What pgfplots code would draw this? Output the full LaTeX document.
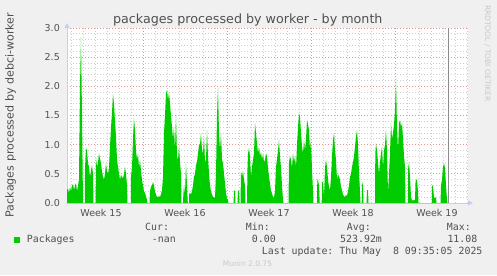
\documentclass[border=0pt]{standalone}
\usepackage{fontspec}
\setmainfont{DejaVu Sans}
\setmonofont{DejaVu Sans Mono}
\usepackage{pgfplots}
\pgfplotsset{compat=1.18}
\usetikzlibrary{arrows.meta}
\definecolor{mbg}{RGB}{240,240,240}
\definecolor{mgreen}{RGB}{0,204,0}
\definecolor{maxis}{RGB}{200,205,245}
\definecolor{mgrid}{RGB}{205,205,205}
\definecolor{mmgrid}{RGB}{225,150,150}
\definecolor{mtext}{RGB}{80,80,80}
\definecolor{mwater}{RGB}{200,200,200}
\definecolor{mnow}{RGB}{140,140,140}
\newcommand\tickfont{\fontsize{9.5bp}{11bp}\selectfont}
\newcommand\titlefont{\fontsize{12.7bp}{15bp}\selectfont}
\newcommand\labelfont{\fontsize{11.1bp}{13bp}\selectfont}
\newcommand\legfont{\ttfamily\fontsize{9.9bp}{12bp}\selectfont}
\newcommand\waterfont{\fontsize{7.5bp}{9bp}\selectfont}

\pgfplotstableread{
h v
0 0.22
2 0.25
4 0.17
6 0.28
8 0.2
10 0.3
12 0.32
14 0.22
16 0.3
18 0.34
20 0.2
22 0.3
24 0.4
26 2.0
28 2.85
30 1.5
32 0
35.8 0
36 0.6
38 0.94
40 0.9
42 0.68
44 0.62
46 0.45
48 0.55
50 0.65
52 0.5
53 0
57.2 0
58 0.77
60 0.62
62 0.7
64 0.85
66 0.76
68 0.68
70 0.55
72 0.45
74 0.4
76 0.5
78 0.68
80 0.55
82 0.5
84 0.6
86 0.97
88 1.3
90 1.55
92 1.87
94 1.7
96 1.4
98 1.14
100 0.74
102 0.62
104 0.5
106 0.4
108 0.48
110 0.45
112 0.42
114 0.5
116 0.62
118 0.5
120 0.3
121 0
127.6 0
128 0.45
130 0.6
132 1.1
134 1.45
136 1.25
138 0.9
140 0.74
142 0.85
144 0.6
146 0.74
148 0.55
150 0.4
152 0.3
154 0.2
156 0.17
158 0.12
160 0.05
161 0
165 0
166 0.2
168 0.28
170 0.3
172 0.36
174 0.3
176 0.2
178 0.14
180 0.11
182 0.1
184 0.12
186 0.1
188 0.15
190 0.22
192 0.45
194 1.2
196 1.5
198 1.88
200 1.94
202 1.76
204 1.9
206 1.7
208 1.5
210 1.3
212 1.1
214 1.3
216 0.9
218 1.51
220 0.8
222 0.74
224 0.97
226 0.7
228 0.5
229 0
232 0
232.6 0.13
234 0.3
236 0.15
238 0.68
240 0.3
241.6 0
244 0
244.4 0.15
246 0.18
248 0.14
250 0.2
252 0.3
254 0.45
256 0.5
258 0.65
260 0.7
262 0.85
264 1.0
266 1.0
268 1.2
270 0.9
272 0.85
274 1.14
276 0.7
278 0.75
280 1.25
282 0.8
284 0.5
286 0.3
288 0.2
290 0.15
292 0.1
294 0.1
296 0.08
298 0.5
300 1.5
302 1.97
304 1.2
306 0.9
308 1.2
310 0.74
312 0.68
314 0.5
316 0.34
318 0.17
320 0.08
322 0.05
323 0
333.2 0
334 0.22
336 0.2
337 0
341 0
342 0.22
344 0.2
345 0
347 0
348 0.54
350 0.45
352 0.55
354 0.4
356 0.3
357 0
360 0
361 0.6
362 0.85
364 0.94
366 0.8
368 0.45
370 0.62
372 0.74
374 0.85
376 1.37
378 1.2
380 1.02
382 0.85
384 0.97
386 0.8
388 0.88
390 0.74
392 0.85
394 0.7
396 0.74
398 0.85
400 0.8
402 0.6
404 0.45
406 0.34
408 0.2
410 0.17
412 0.1
414 0.1
416 0.2
418 0.62
420 0.75
422 0.9
424 1.08
426 0.8
428 0.6
430 0.3
432 0.05
433 0
443 0
444 0.7
446 0.8
448 0.74
450 0.6
452 0.85
454 0.7
456 0.8
458 0.6
460 1.0
462 1.3
464 1.54
466 1.48
468 1.2
470 0.97
472 0.85
474 1.08
476 0.9
478 1.1
480 1.42
482 1.35
484 1.25
486 0.9
488 1.08
490 0.57
492 0.2
493 0
500 0
500.6 0.4
502 0.4
504 0.3
505.4 0
509.4 0
510 0.37
512 0.35
514 0.1
516 0.6
518 0.74
520 0.62
522 0.4
524 0.28
526 0.22
528 0.45
530 0.8
532 1.08
534 1.2
536 0.9
538 0.74
540 0.4
542 0.5
544 0.45
546 0.4
548 0.28
550 0.22
552 0.14
554 0.12
556 0.1
558 0.14
560 0.12
562 0.2
564 0.3
566 0.45
568 0.5
570 0.62
572 0.7
574 0.8
576 0.97
578 1.14
580 1.25
582 1.0
584 0.5
586 0.2
587 0
589.4 0
590 0.36
592 0.3
593 0
599 0
600 0.22
602 0.22
603 0
616 0
616.6 0.85
618 1.02
620 0.9
622 0.7
624 0.5
626 0.7
628 0.85
630 0.97
632 0.6
634 0.9
636 1.0
638 1.25
640 0.9
642 0.17
644 0.5
646 0.85
648 1.37
650 1.1
652 1.2
654 1.35
656 1.6
658 2.1
660 1.3
662 0.9
664 1.37
666 1.42
668 1.3
670 1.37
672 1.1
674 0.8
676 0.62
677 0
682 0
682.4 0.6
684 0.7
686 0.45
688 0.1
690 0.05
692 0.04
694 0.05
696 0.05
697 0.35
698 0.4
700 0.4
702 0.2
703 0
729.6 0
730 0.31
732 0.28
734 0.1
736 0.08
738 0.1
739 0
747 0
748 0.3
750 0.4
752 0.62
754 0.68
756 0.6
758 0.3
760 0.05
761 0
}\datatable

\begin{document}
\begin{tikzpicture}[x=1bp,y=1bp]
\fill[mbg] (0,0) rectangle (497,275);
\begin{axis}[
  at={(67bp,72bp)}, anchor=south west,
  scale only axis, width=401bp, height=175bp,
  xmin=0, xmax=802, ymin=0, ymax=3,
  axis background/.style={fill=white},
  axis x line*=bottom, axis y line*=left,
  axis line style={draw=maxis, line width=1bp},
  x axis line style={-{Triangle[length=5bp,width=5bp]}, shorten >=-5bp},
  y axis line style={-{Triangle[length=5bp,width=5bp]}, shorten >=-5bp},
  xtick={68,236,404,572,740},
  xticklabels={Week 15,Week 16,Week 17,Week 18,Week 19},
  tick style={draw=none},
  extra x ticks={152,320,488,656},
  extra x tick labels={},
  extra x tick style={grid=major},
  minor xtick={8,32,...,800},
  xminorgrids=true,
  ytick={0,0.5,...,3},
  minor y tick num=4,
  ymajorgrids=true, yminorgrids=true,
  major grid style={draw=mmgrid, dash pattern=on 1bp off 2bp, line width=0.8bp},
  minor grid style={draw=mgrid, dash pattern=on 1bp off 2bp, line width=0.8bp},
  /pgf/number format/assume math mode=true,
  yticklabel style={/pgf/number format/.cd, fixed, fixed zerofill, precision=1, /tikz/.cd, font=\tickfont, text=mtext, inner sep=0pt, xshift=-7bp},
  xticklabel style={anchor=base, yshift=-13bp, inner sep=0pt, font=\tickfont, text=mtext},
]
\addplot[draw=none, fill=mgreen] table[x=h, y=v] {\datatable} \closedcycle;
\addplot[draw=mnow, line width=1bp] coordinates {(762,0) (762,3)};
\end{axis}
\node[anchor=base, font=\titlefont, text=mtext] at (247.8,251.7) {packages processed by worker - by month};
\node[rotate=90, anchor=base, font=\labelfont, text=mtext] at (13.5,160) {Packages processed by debci-worker};
\node[rotate=-90, anchor=base, font=\waterfont, text=mwater] at (485,221.5) {RRDTOOL / TOBI OETIKER};
\fill[mgreen] (14,32.3) rectangle (20,38.3);
\begin{scope}[every node/.style={anchor=base west, font=\legfont, text=mtext, inner sep=0pt}]
\node at (26.7,32.3) {Packages};
\node at (145,44.3) {Cur:};
\node at (151.7,32.3) {-nan};
\node at (245.7,44.3) {Min:};
\node at (251.7,32.3) {0.00};
\node at (346.7,44.3) {Avg:};
\node at (340,32.3) {523.92m};
\node at (446.7,44.3) {Max:};
\node at (447.3,32.3) {11.08};
\node at (261.7,20.7) {Last update: Thu May\ \ 8 09:35:05 2025};
\end{scope}
\node[anchor=base, font=\waterfont, text=mwater] at (247.5,8.3) {Munin 2.0.75};
\pgfresetboundingbox
\useasboundingbox (0,0) rectangle (497,275);
\end{tikzpicture}
\end{document}
